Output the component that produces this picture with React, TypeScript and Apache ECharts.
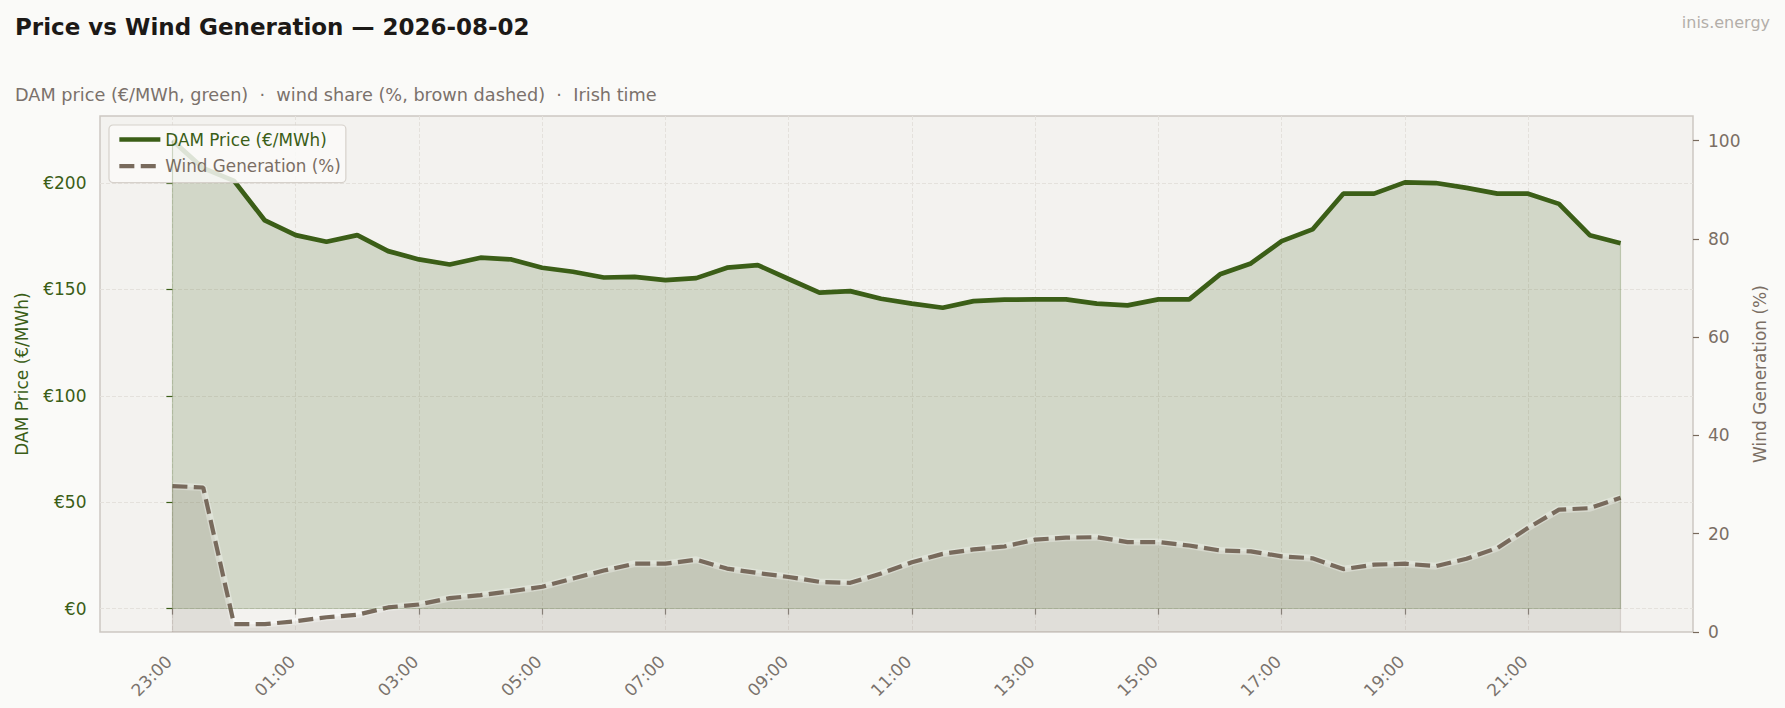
import * as echarts from "echarts"
import { useEffect, useRef } from "react"

// Half-hourly slots, Irish time, starting the evening before the trading day.
const times = [
  "23:00", "23:30", "00:00", "00:30", "01:00", "01:30", "02:00", "02:30",
  "03:00", "03:30", "04:00", "04:30", "05:00", "05:30", "06:00", "06:30",
  "07:00", "07:30", "08:00", "08:30", "09:00", "09:30", "10:00", "10:30",
  "11:00", "11:30", "12:00", "12:30", "13:00", "13:30", "14:00", "14:30",
  "15:00", "15:30", "16:00", "16:30", "17:00", "17:30", "18:00", "18:30",
  "19:00", "19:30", "20:00", "20:30", "21:00", "21:30", "22:00", "22:30",
]

// DAM price, €/MWh
const price = [
  220, 207, 201, 182.4, 175.5, 172.4, 175.5, 168, 164.1, 161.7, 164.9, 164.1,
  160.2, 158.3, 155.6, 155.9, 154.4, 155.3, 160.2, 161.4, 154.9, 148.5, 149.2, 145.6,
  143.3, 141.4, 144.5, 145.2, 145.3, 145.3, 143.3, 142.5, 145.3, 145.3, 157.1, 162.2,
  172.7, 178.2, 195, 195, 200.3, 200, 197.7, 195, 195, 190.2, 175.5, 171.7,
]

// wind share of generation, %
const wind = [
  29.7, 29.4, 1.6, 1.6, 2.2, 3.0, 3.5, 5.0, 5.6, 6.9, 7.5, 8.3,
  9.2, 10.9, 12.5, 13.9, 13.9, 14.7, 12.9, 12.0, 11.2, 10.2, 10.0, 11.9,
  14.2, 15.9, 16.8, 17.4, 18.8, 19.2, 19.3, 18.3, 18.3, 17.6, 16.6, 16.4,
  15.4, 15.0, 12.8, 13.7, 13.9, 13.4, 14.9, 17.1, 21.2, 24.9, 25.2, 27.3,
]

const xTicks = [0, 4, 8, 12, 16, 20, 24, 28, 32, 36, 40, 44]
const priceTicks = [0, 50, 100, 150, 200]
const windTicks = [0, 20, 40, 60, 80, 100]

const GREEN = "#3b5e17"
const BROWN = "#786a5c"
const BROWN_TEXT = "#7a6e64"
const GREY = "#7a736d"
const FONT = "DejaVu Sans"
const WIND_DASH = [15, 6.4]

export default function App() {
  const ref = useRef<HTMLDivElement>(null)

  useEffect(() => {
    if (!ref.current) return
    const chart = echarts.init(ref.current, null, { renderer: "svg" })

    const last = price.length - 1
    const priceData = price.map((v, i) => [i, v])
    const windData = wind.map((v, i) => [i, v])
    const gridLine = { show: true, lineStyle: { color: "#e4e1dc", width: 1, type: [4, 2] } }
    const sep = "\u00a0\u00a0·\u00a0\u00a0"

    chart.setOption({
      animation: false,
      backgroundColor: "#fafaf8",
      textStyle: { fontFamily: FONT },
      title: [
        {
          text: "Price vs Wind Generation — 2026-08-02",
          left: 15,
          top: 15,
          padding: 0,
          textStyle: { fontFamily: FONT, fontSize: 23, fontWeight: "bold", color: "#1c1917" },
        },
        {
          text: `DAM price (€/MWh, green)${sep}wind share (%, brown dashed)${sep}Irish time`,
          left: 15,
          top: 86,
          padding: 0,
          textStyle: { fontFamily: FONT, fontSize: 17.7, fontWeight: "normal", color: "#7a716b" },
        },
        {
          text: "inis.energy",
          right: 15,
          top: 14.5,
          padding: 0,
          textStyle: { fontFamily: FONT, fontSize: 16, fontWeight: "normal", color: "#b3aea9" },
        },
      ],
      legend: {
        orient: "vertical",
        left: 109,
        top: 125,
        padding: [6, 5, 8, 8],
        itemGap: 9.6,
        itemWidth: 41,
        itemHeight: 14,
        backgroundColor: "rgba(250,250,248,0.85)",
        borderColor: "#d6d1cb",
        borderWidth: 1.2,
        borderRadius: 4,
        itemStyle: { opacity: 0 },
        textStyle: { fontFamily: FONT, fontSize: 16.8 },
        data: [
          { name: "DAM Price (€/MWh)", textStyle: { color: GREEN }, lineStyle: { width: 4.7, color: GREEN } },
          {
            name: "Wind Generation (%)",
            textStyle: { color: BROWN_TEXT },
            lineStyle: { width: 4.2, color: BROWN, type: WIND_DASH },
          },
        ],
      },
      grid: {
        left: 100,
        right: 92,
        top: 116,
        bottom: 76,
        show: true,
        backgroundColor: "#f3f2ef",
        borderColor: "#cdc8c2",
        borderWidth: 1.5,
      },
      xAxis: {
        type: "value",
        min: -2.35,
        max: last + 2.35,
        axisLine: { show: false },
        axisTick: { customValues: xTicks, length: 6, lineStyle: { color: "#8a847e", width: 1.2 } },
        axisLabel: {
          customValues: xTicks,
          rotate: 45,
          margin: 23,
          padding: [0, 5, 0, 0],
          fontSize: 17,
          color: GREY,
          fontFamily: FONT,
          formatter: (v: number) => times[Math.round(v)] ?? "",
        },
        splitLine: gridLine,
      },
      yAxis: [
        {
          type: "value",
          position: "left",
          min: -11,
          max: 231.5,
          axisLine: { show: false },
          axisTick: { customValues: priceTicks, length: 6, lineStyle: { color: GREEN, width: 1.2 } },
          axisLabel: {
            customValues: priceTicks,
            margin: 13.5,
            fontSize: 17,
            color: GREEN,
            fontFamily: FONT,
            formatter: (v: number) => `€${v}`,
          },
          splitLine: gridLine,
          name: "DAM Price (€/MWh)",
          nameLocation: "middle",
          nameGap: 70,
          nameTextStyle: { color: GREEN, fontSize: 17, fontFamily: FONT },
        },
        {
          type: "value",
          position: "right",
          min: 0,
          max: 105,
          axisLine: { show: false },
          axisTick: { customValues: windTicks, length: 6, lineStyle: { color: BROWN, width: 1.2 } },
          axisLabel: { customValues: windTicks, margin: 15, fontSize: 17, color: BROWN_TEXT, fontFamily: FONT },
          splitLine: { show: false },
          name: "Wind Generation (%)",
          nameLocation: "middle",
          nameGap: 55,
          nameTextStyle: { color: BROWN_TEXT, fontSize: 17, fontFamily: FONT },
        },
      ],
      series: [
        {
          name: "DAM Price (€/MWh)",
          type: "line",
          yAxisIndex: 0,
          data: priceData,
          symbol: "none",
          z: 2,
          lineStyle: { color: GREEN, width: 4.7 },
          itemStyle: { color: GREEN },
          areaStyle: { color: "rgba(59,94,23,0.18)", opacity: 1 },
          markLine: {
            silent: true,
            symbol: "none",
            label: { show: false },
            lineStyle: { color: "rgba(59,94,23,0.22)", width: 1.2, type: "solid" },
            data: [
              [{ coord: [0, 0] }, { coord: [last, 0] }],
              [{ coord: [0, 0] }, { coord: [0, price[0]] }],
              [{ coord: [last, 0] }, { coord: [last, price[last]] }],
            ],
          },
        },
        {
          name: "wind-fill",
          type: "line",
          yAxisIndex: 1,
          data: windData,
          symbol: "none",
          silent: true,
          z: 3,
          lineStyle: { color: "rgba(255,255,255,0.3)", width: 7 },
          areaStyle: { color: "rgba(122,107,93,0.15)", opacity: 1 },
          markLine: {
            silent: true,
            symbol: "none",
            label: { show: false },
            lineStyle: { color: "rgba(122,107,93,0.18)", width: 1.2, type: "solid" },
            data: [
              [{ coord: [0, 0] }, { coord: [0, wind[0]] }],
              [{ coord: [last, 0] }, { coord: [last, wind[last]] }],
            ],
          },
        },
        {
          name: "Wind Generation (%)",
          type: "line",
          yAxisIndex: 1,
          data: windData,
          symbol: "none",
          z: 4,
          lineStyle: { color: BROWN, width: 4.2, type: WIND_DASH },
          itemStyle: { color: BROWN },
        },
      ],
    })

    return () => chart.dispose()
  }, [])

  return <div ref={ref} style={{ position: "absolute", left: 0, top: 0, width: 1785, height: 708 }} />
}
